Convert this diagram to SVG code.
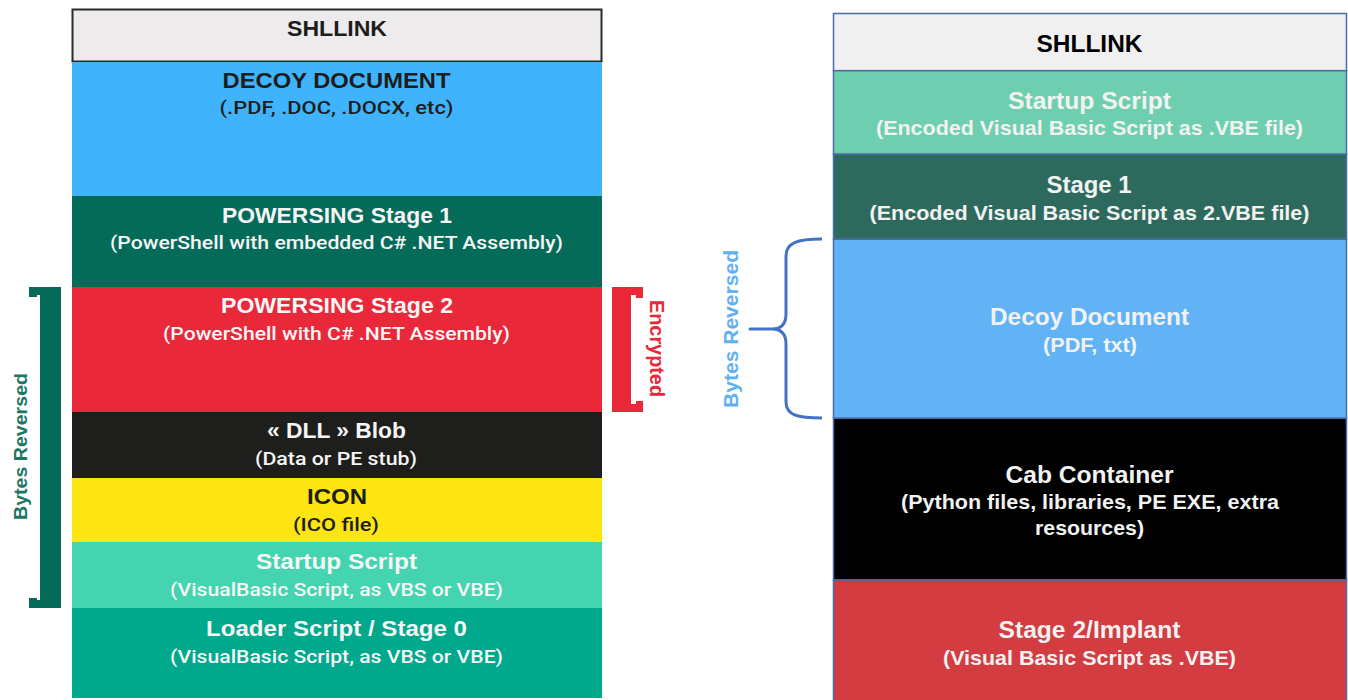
<svg xmlns="http://www.w3.org/2000/svg" width="1348" height="700" viewBox="0 0 1348 700">
  <style>
    text { text-anchor: middle; }
    .lt { font-family: "Liberation Sans", Arial, sans-serif; font-weight: 700; font-size: 22px; }
    .ls { font-family: Roboto, "Liberation Sans", Arial, sans-serif; font-weight: 500; font-size: 18.5px; }
    .rt { font-family: "Liberation Sans", Arial, sans-serif; font-weight: 700; font-size: 24px; }
    .rs { font-family: "Liberation Sans", Arial, sans-serif; font-weight: 700; font-size: 20.5px; }
    .dk { fill: #1D1D1B; }
    .wh { fill: #F6F6F6; }
    .rw { fill: #F1F2F1; }
    .rrow { stroke: #4A6CA6; stroke-width: 1.5; }
    .rot { font-family: "Liberation Sans", Arial, sans-serif; font-weight: 700; }
  </style>

  <!-- LEFT STACK -->
  <g id="left-shllink">
    <rect x="72.5" y="9.5" width="529" height="52" fill="#EDEBEC" stroke="#2B2B2B" stroke-width="2"/>
    <text class="lt dk" x="337" y="36" textLength="100" lengthAdjust="spacingAndGlyphs">SHLLINK</text>
  </g>
  <g id="left-decoy">
    <rect x="72" y="62" width="530" height="134" fill="#3FB4FD"/>
    <text class="lt dk" x="336.5" y="88" textLength="228" lengthAdjust="spacingAndGlyphs">DECOY DOCUMENT</text>
    <text class="ls dk" x="336.5" y="114" textLength="234" lengthAdjust="spacingAndGlyphs">(.PDF, .DOC, .DOCX, etc)</text>
  </g>
  <g id="left-stage1">
    <rect x="72" y="196" width="530" height="91" fill="#046B59"/>
    <text class="lt wh" x="337" y="222.5" textLength="230" lengthAdjust="spacingAndGlyphs">POWERSING Stage 1</text>
    <text class="ls wh" x="336.5" y="249" textLength="453" lengthAdjust="spacingAndGlyphs">(PowerShell with embedded C# .NET Assembly)</text>
  </g>
  <g id="left-stage2">
    <rect x="72" y="287" width="530" height="125" fill="#E9283A"/>
    <text class="lt wh" x="337" y="313" textLength="232" lengthAdjust="spacingAndGlyphs">POWERSING Stage 2</text>
    <text class="ls wh" x="336.5" y="340" textLength="347" lengthAdjust="spacingAndGlyphs">(PowerShell with C# .NET Assembly)</text>
  </g>
  <g id="left-dll">
    <rect x="72" y="412" width="530" height="66" fill="#1E1E1C"/>
    <text class="lt wh" x="336.5" y="438" textLength="139" lengthAdjust="spacingAndGlyphs">« DLL » Blob</text>
    <text class="ls wh" x="336" y="465" textLength="162" lengthAdjust="spacingAndGlyphs">(Data or PE stub)</text>
  </g>
  <g id="left-icon">
    <rect x="72" y="478" width="530" height="64" fill="#FCE511"/>
    <text class="lt dk" x="337" y="504" textLength="60" lengthAdjust="spacingAndGlyphs">ICON</text>
    <text class="ls dk" x="336" y="531" textLength="86" lengthAdjust="spacingAndGlyphs">(ICO file)</text>
  </g>
  <g id="left-startup">
    <rect x="72" y="542" width="530" height="66" fill="#44D4B0"/>
    <text class="lt wh" x="336.5" y="569" textLength="161" lengthAdjust="spacingAndGlyphs">Startup Script</text>
    <text class="ls wh" x="336.5" y="596" textLength="333" lengthAdjust="spacingAndGlyphs">(VisualBasic Script, as VBS or VBE)</text>
  </g>
  <g id="left-loader">
    <rect x="72" y="608" width="530" height="90" fill="#00A88C"/>
    <text class="lt wh" x="336.5" y="636" textLength="261" lengthAdjust="spacingAndGlyphs">Loader Script / Stage 0</text>
    <text class="ls wh" x="336.5" y="662.5" textLength="333" lengthAdjust="spacingAndGlyphs">(VisualBasic Script, as VBS or VBE)</text>
  </g>

  <!-- RIGHT STACK -->
  <g id="right-shllink">
    <rect class="rrow" x="833.5" y="13.5" width="513" height="57.2" fill="#F0F0F0"/>
    <text class="rt" x="1089.5" y="51.7" fill="#000000" textLength="106" lengthAdjust="spacingAndGlyphs">SHLLINK</text>
  </g>
  <g id="right-startup">
    <rect class="rrow" x="833.5" y="70.7" width="513" height="83.6" fill="#6ECFB0"/>
    <text class="rt rw" x="1089.5" y="109.3" textLength="163" lengthAdjust="spacingAndGlyphs">Startup Script</text>
    <text class="rs rw" x="1089.5" y="135" textLength="427" lengthAdjust="spacingAndGlyphs">(Encoded Visual Basic Script as .VBE file)</text>
  </g>
  <g id="right-stage1">
    <rect class="rrow" x="833.5" y="154.3" width="513" height="85" fill="#2D6A5D"/>
    <text class="rt rw" x="1089" y="193.3" textLength="85" lengthAdjust="spacingAndGlyphs">Stage 1</text>
    <text class="rs rw" x="1089.5" y="220" textLength="440" lengthAdjust="spacingAndGlyphs">(Encoded Visual Basic Script as 2.VBE file)</text>
  </g>
  <g id="right-decoy">
    <rect class="rrow" x="833.5" y="239.3" width="513" height="179" fill="#62B3F6"/>
    <text class="rt rw" x="1089.5" y="325" textLength="199" lengthAdjust="spacingAndGlyphs">Decoy Document</text>
    <text class="rs rw" x="1090" y="351.5" textLength="94" lengthAdjust="spacingAndGlyphs">(PDF, txt)</text>
  </g>
  <g id="right-cab">
    <rect class="rrow" x="833.5" y="418.3" width="513" height="161.7" fill="#000000"/>
    <text class="rt rw" x="1089.5" y="483.3" textLength="168" lengthAdjust="spacingAndGlyphs">Cab Container</text>
    <text class="rs rw" x="1090" y="509.3" textLength="378" lengthAdjust="spacingAndGlyphs">(Python files, libraries, PE EXE, extra</text>
    <text class="rs rw" x="1089.5" y="535" textLength="109" lengthAdjust="spacingAndGlyphs">resources)</text>
  </g>
  <g id="right-stage2">
    <rect class="rrow" x="833.5" y="580" width="513" height="122" fill="#D33C40"/>
    <text class="rt rw" x="1089.5" y="638.3" textLength="182" lengthAdjust="spacingAndGlyphs">Stage 2/Implant</text>
    <text class="rs rw" x="1089.5" y="665" textLength="293" lengthAdjust="spacingAndGlyphs">(Visual Basic Script as .VBE)</text>
  </g>

  <!-- BRACKETS / BRACE -->
  <g id="connectors">
    <path id="bracket-bytes-left" fill="#046B59" d="M29,287 L61,287 L61,608 L29,608 L29,598 L37,598 L37,600 L40,600 L40,295 L37,295 L37,297 L29,297 Z"/>
    <path id="bracket-encrypted" fill="#E9283A" d="M612,287 L643,287 L643,298 L636,298 L636,295 L631,295 L631,404 L636,404 L636,401 L643,401 L643,412 L612,412 Z"/>
    <path id="brace-bytes-right" fill="none" stroke="#4472C4" stroke-width="3" stroke-linejoin="round" d="M822,239 C797,239 786,243 786,256 L786,314 C786,324 781,329 772,329 L750,329 L772,329 C781,329 786,334 786,344 L786,402 C786,415 797,418 822,418"/>
  </g>

  <g id="labels">
    <text class="rot" font-size="19" fill="#1C7664" transform="translate(26.5,446.5) rotate(-90)" textLength="147" lengthAdjust="spacingAndGlyphs">Bytes Reversed</text>
    <text class="rot" font-size="20.5" fill="#E9283A" transform="translate(650,348.5) rotate(90)" textLength="97" lengthAdjust="spacingAndGlyphs">Encrypted</text>
    <text class="rot" font-size="21" fill="#5FB1F3" transform="translate(738,329) rotate(-90)" textLength="158" lengthAdjust="spacingAndGlyphs">Bytes Reversed</text>
  </g>
</svg>
